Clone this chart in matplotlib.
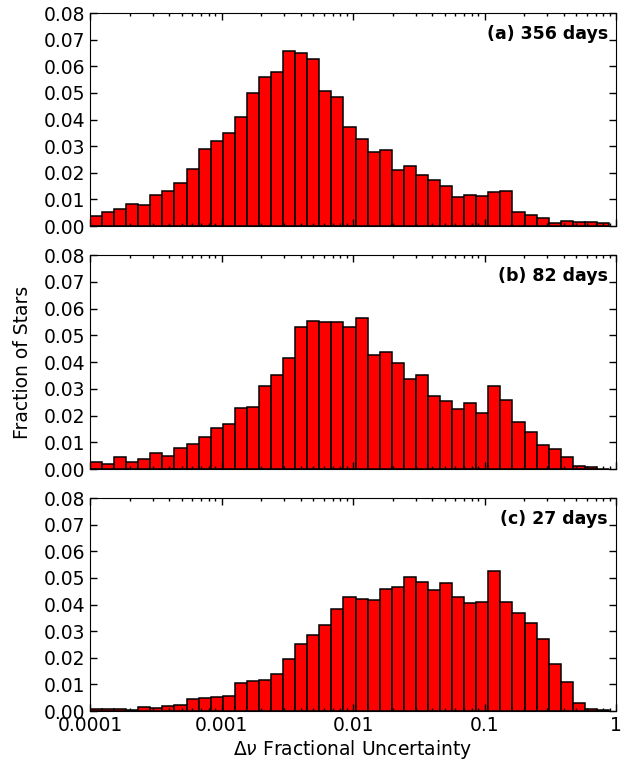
import matplotlib
import matplotlib.pyplot as plt
import numpy as np
from matplotlib.ticker import FixedLocator, FixedFormatter, LogLocator, NullFormatter

matplotlib.use("Agg")

# log-spaced bins in fractional uncertainty
log_lo, log_hi, n_bins = -4.0, -0.053, 43

frac_356 = [0.0038, 0.0051, 0.0064, 0.0084, 0.0078, 0.0115, 0.0133, 0.0161, 0.0213, 0.0291,
            0.0319, 0.0350, 0.0409, 0.0501, 0.0561, 0.0579, 0.0659, 0.0649, 0.0629, 0.0509,
            0.0485, 0.0371, 0.0326, 0.0278, 0.0284, 0.0209, 0.0224, 0.0191, 0.0173, 0.0151,
            0.0109, 0.0115, 0.0111, 0.0128, 0.0130, 0.0053, 0.0040, 0.0029, 0.0011, 0.0018,
            0.0014, 0.0014, 0.0010]
frac_82 = [0.0025, 0.0019, 0.0045, 0.0027, 0.0037, 0.0060, 0.0049, 0.0080, 0.0092, 0.0119,
           0.0152, 0.0169, 0.0228, 0.0231, 0.0311, 0.0350, 0.0415, 0.0530, 0.0553, 0.0550,
           0.0549, 0.0530, 0.0566, 0.0425, 0.0437, 0.0397, 0.0338, 0.0351, 0.0274, 0.0254,
           0.0224, 0.0248, 0.0209, 0.0310, 0.0259, 0.0175, 0.0138, 0.0090, 0.0073, 0.0045,
           0.0010, 0.0009, 0.0]
frac_27 = [0.0006, 0.0008, 0.0008, 0.0003, 0.0015, 0.0013, 0.0018, 0.0021, 0.0044, 0.0050,
           0.0054, 0.0056, 0.0104, 0.0113, 0.0115, 0.0140, 0.0196, 0.0253, 0.0285, 0.0322,
           0.0385, 0.0429, 0.0421, 0.0416, 0.0460, 0.0467, 0.0503, 0.0484, 0.0454, 0.0480,
           0.0428, 0.0407, 0.0411, 0.0527, 0.0411, 0.0368, 0.0332, 0.0270, 0.0178, 0.0108,
           0.0031, 0.0006, 0.0005]

panel_labels = ["(a) 356 days", "(b) 82 days", "(c) 27 days"]
x_ticks = [0.0001, 0.001, 0.01, 0.1, 1]
x_tick_labels = ["0.0001", "0.001", "0.01", "0.1", "1"]
y_ticks = [0.0, 0.01, 0.02, 0.03, 0.04, 0.05, 0.06, 0.07, 0.08]

edges = np.logspace(log_lo, log_hi, n_bins + 1)
centers = np.sqrt(edges[:-1] * edges[1:])

fig = plt.figure(figsize=(6.32, 7.62), dpi=100)
boxes = [[0.1424, 0.7034, 0.8323, 0.2795],
         [0.1424, 0.3845, 0.8323, 0.2808],
         [0.1424, 0.0669, 0.8323, 0.2795]]

for i, (vals, label) in enumerate(zip([frac_356, frac_82, frac_27], panel_labels)):
    ax = fig.add_axes(boxes[i])
    ax.hist(centers, bins=edges, weights=vals, color="#ff0000", edgecolor="black", linewidth=1.1)
    ax.set_xscale("log")
    ax.set_xlim(1e-4, 1)
    ax.set_ylim(0, 0.08)
    ax.set_yticks(y_ticks)
    ax.set_yticklabels([f"{v:.2f}" for v in y_ticks])
    ax.xaxis.set_major_locator(FixedLocator(x_ticks))
    ax.xaxis.set_minor_locator(LogLocator(base=10, subs=np.arange(2, 10)))
    ax.xaxis.set_minor_formatter(NullFormatter())
    if i == 2:
        ax.xaxis.set_major_formatter(FixedFormatter(x_tick_labels))
        ax.set_xlabel(r"$\Delta\nu$ Fractional Uncertainty", fontsize=13.5, labelpad=2)
    else:
        ax.xaxis.set_major_formatter(NullFormatter())
    if i == 1:
        ax.set_ylabel("Fraction of Stars", fontsize=13.5, labelpad=8)
    ax.tick_params(which="both", direction="in", top=True, right=True, labelsize=13.5)
    ax.tick_params(which="major", length=5, width=1)
    ax.tick_params(which="minor", length=2.5, width=1)
    ax.text(0.985, 0.9, label, transform=ax.transAxes, ha="right", va="center",
            fontsize=12.5, fontweight="bold")

fig.savefig("out.png", dpi=100)
